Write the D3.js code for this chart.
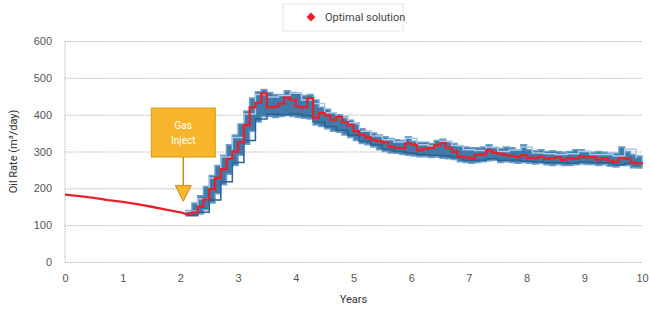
<!DOCTYPE html>
<html>
<head>
<meta charset="utf-8">
<script src="https://cdn.jsdelivr.net/npm/d3@7"></script>
<style>
body { margin:0; background:#fff; font-family:Roboto, "Open Sans", sans-serif; }
.grid line { stroke:#bdb3bb; stroke-dasharray:1.5,1; }
.axis text { fill:#555; font-size:11px; }
</style>
</head>
<body>
<script>
// before injection: smooth decline
var preYears = [0,0.25,0.5,0.75,1,1.25,1.5,1.75,2.0,2.1];
var preRate  = [183,179,174,168,163,157,150,142,135,130];

// after injection, 0.1 year steps starting at 2.1
var stepStart = 2.1, stepSize = 0.1;
var optimal = [130,135,150,170,198,228,252,280,300,325,372,420,432,458,420,422,430,446,440,421,
  420,445,392,404,398,385,394,380,372,355,345,338,331,328,325,314,310,310,322,318,
  304,308,310,316,323,310,300,286,284,282,290,292,304,296,294,290,288,285,290,283,
  282,286,280,282,284,277,282,280,286,284,285,278,282,275,272,282,280,270,268,265];
var bandHi = [140,160,180,205,235,262,290,318,345,375,410,445,462,468,460,455,455,465,460,458,
  452,455,440,420,415,405,400,395,385,375,362,355,350,345,340,335,332,330,340,328,
  325,325,322,330,333,325,322,315,312,310,310,312,318,310,308,312,310,305,318,305,
  302,305,300,302,300,298,300,305,305,300,298,300,298,295,295,312,300,292,288,285];
var bandLo = [125,125,130,142,160,185,210,238,262,290,320,355,380,395,395,392,395,398,395,392,
  390,388,372,368,362,355,352,345,338,330,322,318,312,305,300,296,295,292,290,288,
  286,286,284,285,282,280,278,272,270,268,270,272,275,276,270,272,270,268,270,268,
  266,268,264,262,265,262,262,264,266,265,265,262,264,260,258,262,262,256,255,255];

// two visible realisations, 0.2 year steps from 2.1
var memberStep = 0.2;
var memberHi = [138,172,228,285,338,402,455,448,452,458,440,430,405,392,378,355,342,332,326,336,
  318,315,328,316,305,303,312,300,304,312,296,294,292,294,300,292,292,288,306,282];
var memberLo = [127,135,168,218,270,330,388,402,400,402,398,380,368,358,344,328,318,306,300,296,
  292,290,288,284,276,276,280,276,276,274,272,270,270,268,272,270,270,264,268,260];

var yTicks = [0,100,200,300,400,500,600];
var xTicks = [0,1,2,3,4,5,6,7,8,9,10];

var width = 650, height = 309;
var margin = {left:65, right:8, top:41, bottom:47};
var w = width - margin.left - margin.right;
var h = height - margin.top - margin.bottom;

var x = d3.scaleLinear().domain([0,10]).range([0,w]);
var y = d3.scaleLinear().domain([0,600]).range([h,0]);

var svg = d3.select("body").append("svg").attr("width",width).attr("height",height);
var g = svg.append("g").attr("transform","translate("+margin.left+","+margin.top+")");

// gridlines
g.append("g").attr("class","grid")
  .call(d3.axisLeft(y).tickValues(yTicks).tickSize(-w).tickFormat(""))
  .call(function(s){ s.select(".domain").remove(); });
g.append("line").attr("x1",0).attr("x2",0).attr("y1",0).attr("y2",h)
  .attr("stroke","#b9b9c9").attr("stroke-dasharray","1.5,1");

// axes
g.append("g").attr("class","axis y")
  .call(d3.axisLeft(y).tickValues(yTicks).tickSize(0).tickPadding(13))
  .call(function(s){ s.select(".domain").remove(); });
g.append("g").attr("class","axis x").attr("transform","translate(0,"+h+")")
  .call(d3.axisBottom(x).tickValues(xTicks).tickSize(0).tickPadding(12))
  .call(function(s){ s.select(".domain").remove(); });

svg.append("text").attr("x",margin.left+w/2).attr("y",303).attr("text-anchor","middle")
  .attr("font-size",11).attr("fill","#333").text("Years");
svg.append("text").attr("transform","translate(17,"+(margin.top+h/2)+") rotate(-90)")
  .attr("text-anchor","middle").attr("font-size",11).attr("fill","#333").text("Oil Rate (m³/day)");

function stepYear(start, step){ return function(d,i){ return x(start + i*step); }; }

// ensemble band
var band = d3.area().curve(d3.curveStepAfter)
  .x(stepYear(stepStart,stepSize))
  .y0(function(d,i){ return y(bandLo[i]); })
  .y1(function(d){ return y(d); });
g.append("path").attr("d",band(bandHi))
  .attr("fill","#3f7aa8").attr("stroke","#6fa0cc").attr("stroke-width",1.5);

var stepLine = function(start, step){
  return d3.line().curve(d3.curveStepAfter).x(stepYear(start,step)).y(function(d){ return y(d); });
};
g.append("path").attr("d",stepLine(stepStart,memberStep)(memberHi))
  .attr("fill","none").attr("stroke","#a9c9e8").attr("stroke-width",1.5);
g.append("path").attr("d",stepLine(stepStart,memberStep)(memberLo))
  .attr("fill","none").attr("stroke","#2c6393").attr("stroke-width",1.5);

// optimal line
var pre = d3.line().x(function(d,i){ return x(preYears[i]); }).y(function(d){ return y(d); });
g.append("path").attr("d",pre(preRate)).attr("fill","none").attr("stroke","#e8212a").attr("stroke-width",2.3);
g.append("path").attr("d",stepLine(stepStart,stepSize)(optimal))
  .attr("fill","none").attr("stroke","#e8212a").attr("stroke-width",2.3);

// gas inject callout
var gx = x(2.05);
g.append("rect").attr("x",gx-32).attr("y",y(418)).attr("width",64).attr("height",y(285)-y(418))
  .attr("fill","#f7b52c").attr("stroke","#d89a1c");
g.append("line").attr("x1",gx).attr("x2",gx).attr("y1",y(285)).attr("y2",y(208))
  .attr("stroke","#c98f16").attr("stroke-width",1.5);
g.append("path").attr("d","M"+(gx-8)+","+y(208)+"L"+(gx+8)+","+y(208)+"L"+gx+","+y(165)+"Z")
  .attr("fill","#f7b52c").attr("stroke","#c98f16");
g.append("text").attr("x",gx).attr("y",y(360)).attr("text-anchor","middle")
  .attr("font-size",10).attr("fill","#fff").text("Gas");
g.append("text").attr("x",gx).attr("y",y(320)).attr("text-anchor","middle")
  .attr("font-size",10).attr("fill","#fff").text("Inject");

// legend
var lg = svg.append("g").attr("transform","translate(283,4)");
lg.append("rect").attr("width",120).attr("height",27).attr("fill","#fff")
  .attr("stroke","#d4d4d4").attr("stroke-dasharray","1.5,1");
lg.append("path").attr("d","M28,8.5L32.5,13L28,17.5L23.5,13Z").attr("fill","#e8212a");
lg.append("text").attr("x",42).attr("y",17).attr("font-size",11).attr("fill","#444").text("Optimal solution");
</script>
</body>
</html>
